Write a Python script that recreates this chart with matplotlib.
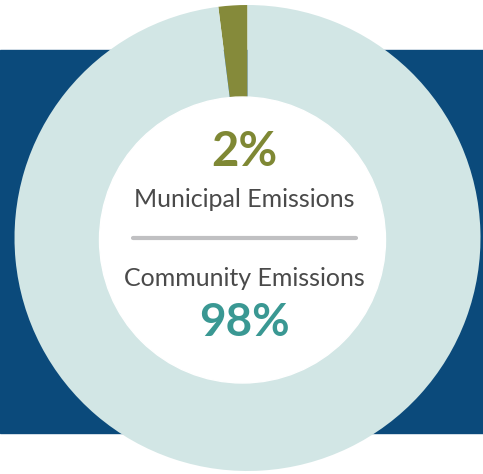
import matplotlib
matplotlib.use("Agg")
import matplotlib.pyplot as plt
from matplotlib.patches import Rectangle

categories = ["Municipal Emissions", "Community Emissions"]
values = [2, 98]
pct_labels = ["2%", "98%"]
colors = ["#858a3a", "#d2e6e5"]

W, H = 483, 474
fig = plt.figure(figsize=(W / 100, H / 100), dpi=100)
ax = fig.add_axes([0, 0, 1, 1])

# background band
ax.add_patch(Rectangle((0, H - 433), W, 433 - 50, color="#0b4a7b", zorder=0))

cx, cy = 247.5, H - 238
R = 233
ax.pie(values, colors=colors, startangle=90, counterclock=True,
       radius=R, center=(cx, cy), frame=True,
       wedgeprops=dict(linewidth=0))
# inner white circle
icx, icy = 242.5, H - 240
circ = plt.Circle((icx, icy), 143, color="white", zorder=3)
ax.add_patch(circ)
ax.set_xlim(0, W)
ax.set_ylim(0, H)
ax.set_aspect("auto")
ax.axis("off")

tx = 244.5
fam = ["Lato", "DejaVu Sans"]
ax.text(tx, H - 152, pct_labels[0], ha="center", va="center", fontsize=34,
        color="#7f8834", fontweight="bold", family=fam, zorder=5)
ax.text(tx, H - 199, categories[0], ha="center", va="center", fontsize=18,
        color="#4a4a4a", family=fam, zorder=5)
ax.plot([133, 356], [H - 238, H - 238], color="#c0c0c2", linewidth=3,
        solid_capstyle="round", zorder=5)
ax.text(tx, H - 279, categories[1], ha="center", va="center", fontsize=18,
        color="#4a4a4a", family=fam, zorder=5)
ax.text(tx, H - 323, pct_labels[1], ha="center", va="center", fontsize=33,
        color="#3a9893", fontweight="bold", family=fam, zorder=5)

fig.savefig("out.png", dpi=100)
